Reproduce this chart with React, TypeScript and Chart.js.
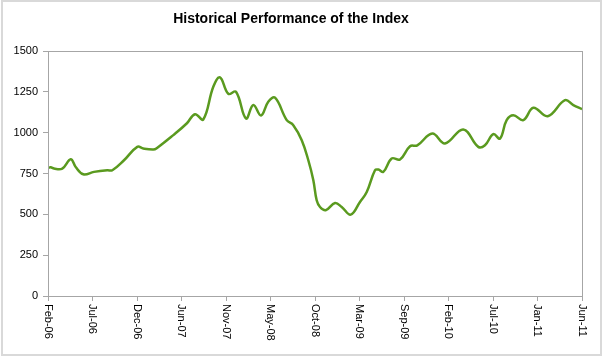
import React, { useEffect, useRef } from "react";
import { Chart, registerables } from "chart.js";

Chart.register(...registerables);

// x in months since start of Feb-06 (axis spans 64 months, 12 equal intervals)
const monthPos: number[] = [
  0.0, 0.32, 0.72, 1.71, 2.72, 3.32, 4.23, 5.51, 7.11, 7.71, 9.11, 10.7, 11.42,
  12.62, 13.03, 15.02, 16.62, 17.62, 18.61, 19.81, 20.61, 21.61, 22.53, 23.73,
  24.61, 25.53, 26.4, 27.21, 28.61, 29.4, 30.41, 31.2, 31.8, 32.2, 32.6, 33.28,
  34.4, 35.2, 36.28, 37.39, 38.2, 39.19, 39.59, 40.19, 41.19, 42.19, 43.39,
  44.26, 46.06, 47.58, 49.77, 51.57, 52.37, 53.37, 54.17, 54.97, 55.77,
  56.97, 58.17, 59.89, 61.96, 62.96, 64.0,
];
const indexValues: number[] = [
  784, 788, 780, 780, 837, 790, 745, 760, 770, 770, 831, 913, 903,
  897, 905, 985, 1056, 1113, 1081, 1281, 1339, 1238, 1250, 1087,
  1169, 1105, 1189, 1214, 1077, 1046, 954, 831, 709, 586, 545, 525,
  569, 545, 498, 576, 637, 770, 774, 760, 842, 836, 917,
  922, 995, 934, 1020, 913, 923, 991, 964, 1077, 1107,
  1077, 1152, 1101, 1199, 1169, 1144,
];
const tickLabels: string[] = [
  "Feb-06", "Jul-06", "Dec-06", "Jun-07", "Nov-07", "May-08", "Oct-08",
  "Mar-09", "Sep-09", "Feb-10", "Jul-10", "Jan-11", "Jun-11",
];
const AXIS_SPAN = 64;
const tickPositions: number[] = tickLabels.map((_, i) => (i * AXIS_SPAN) / (tickLabels.length - 1));

const FONT = "'Liberation Sans', Arial, sans-serif";

export default function App() {
  const ref = useRef<HTMLCanvasElement | null>(null);

  useEffect(() => {
    document.body.style.margin = "0";
    const canvas = ref.current;
    if (!canvas) return;

    const framePlugin = {
      id: "frame",
      beforeDraw(chart: any) {
        const ctx = chart.ctx;
        ctx.save();
        ctx.fillStyle = "#ffffff";
        ctx.fillRect(0, 0, chart.width, chart.height);
        ctx.strokeStyle = "#D9D9D9";
        ctx.lineWidth = 2;
        ctx.strokeRect(2, 1, chart.width - 3, chart.height - 3);
        ctx.restore();
      },
      afterDraw(chart: any) {
        const ctx = chart.ctx;
        const a = chart.chartArea;
        ctx.save();
        ctx.strokeStyle = "#A6A6A6";
        ctx.lineWidth = 1;
        ctx.strokeRect(Math.round(a.left) + 0.5, Math.round(a.top) + 0.5,
          Math.round(a.right) - Math.round(a.left), Math.round(a.bottom) - Math.round(a.top));
        // rotated x labels (reading top to bottom)
        const xs = chart.scales.x;
        ctx.fillStyle = "#000000";
        ctx.font = `11px ${FONT}`;
        ctx.textAlign = "left";
        ctx.textBaseline = "middle";
        tickLabels.forEach((lab, i) => {
          const px = xs.getPixelForValue(tickPositions[i]);
          ctx.save();
          ctx.translate(px, a.bottom + 8);
          ctx.rotate(Math.PI / 2);
          ctx.fillText(lab, 0, 0);
          ctx.restore();
        });
        ctx.restore();
      },
    };

    const chart = new Chart(canvas, {
      type: "line",
      data: {
        datasets: [
          {
            data: monthPos.map((m, i) => ({ x: m, y: indexValues[i] })),
            borderColor: "#5A9A1F",
            borderWidth: 2.5,
            pointRadius: 0,
            tension: 0.4,
            fill: false,
          },
        ],
      },
      options: {
        responsive: false,
        animation: false,
        layout: { padding: { left: 0, right: 20, top: 0, bottom: 0 } },
        plugins: {
          legend: { display: false },
          tooltip: { enabled: false },
          title: {
            display: true,
            text: "Historical Performance of the Index",
            color: "#000000",
            font: { family: FONT, size: 14, weight: "bold" },
            padding: { top: 11, bottom: 23.2 },
          },
        },
        scales: {
          x: {
            type: "linear",
            min: 0,
            max: AXIS_SPAN,
            afterBuildTicks(scale: any) {
              scale.ticks = tickPositions.map((v) => ({ value: v }));
            },
            afterFit(scale: any) {
              scale.height = 61;
            },
            ticks: { display: false },
            grid: {
              display: true,
              drawOnChartArea: false,
              drawTicks: true,
              tickLength: 5,
              color: "#A6A6A6",
            },
            border: { display: true, color: "#A6A6A6" },
          },
          y: {
            min: 0,
            max: 1500,
            afterFit(scale: any) {
              scale.width = 48;
            },
            ticks: {
              stepSize: 250,
              color: "#000000",
              padding: 5,
              font: { family: FONT, size: 11 },
              callback: (v: any) => String(v),
            },
            grid: {
              display: true,
              drawOnChartArea: false,
              drawTicks: true,
              tickLength: 5,
              color: "#A6A6A6",
            },
            border: { display: true, color: "#A6A6A6" },
          },
        },
      },
      plugins: [framePlugin],
    });

    return () => chart.destroy();
  }, []);

  return (
    <div style={{ width: 602, height: 357 }}>
      <canvas ref={ref} width={602} height={357} />
    </div>
  );
}
